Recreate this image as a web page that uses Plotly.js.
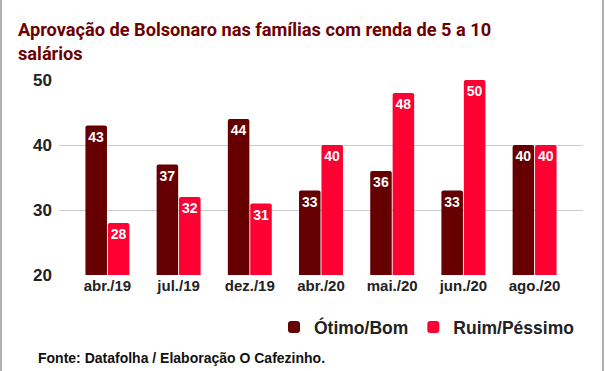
<!DOCTYPE html>
<html>
<head>
<meta charset="utf-8">
<script src="https://cdn.plot.ly/plotly-3.0.1.min.js"></script>
<style>
  html, body { margin: 0; padding: 0; background: #fff; }
  #wrap { position: relative; width: 605px; height: 371px; }
  #chart { width: 605px; height: 371px; }
  #frame { position: absolute; left: 0; top: 0; width: 600px; height: 371px;
           border-left: 2px solid #b0b0b0; border-right: 2px solid #b0b0b0; pointer-events: none; }
</style>
</head>
<body>
<div id="wrap">
  <div id="chart"></div>
  <div id="frame"></div>
</div>
<script>
const categories = ["abr./19", "jul./19", "dez./19", "abr./20", "mai./20", "jun./20", "ago./20"];
const otimoBom = [43, 37, 44, 33, 36, 33, 40];
const ruimPessimo = [28, 32, 31, 40, 48, 50, 40];
const seriesNames = ["Ótimo/Bom", "Ruim/Péssimo"];
const yTicks = [20, 30, 40, 50];
const titleText = "Aprovação de Bolsonaro nas famílias com renda de 5 a 10<br>salários";
const sourceText = "Fonte: Datafolha / Elaboração O Cafezinho.";

const FONT = "Liberation Sans, Arial, sans-serif";
const labelFont = { family: FONT, size: 14, color: "#ffffff", weight: "bold" };

function barTrace(name, values, color) {
  return {
    type: "bar",
    name: name,
    x: categories,
    y: values,
    marker: { color: color, line: { width: 0 } },
    text: values.map(String),
    textposition: "inside",
    insidetextanchor: "end",
    textangle: 0,
    constraintext: "none",
    insidetextfont: labelFont,
    hoverinfo: "skip"
  };
}

const data = [
  barTrace(seriesNames[0], otimoBom, "#660000"),
  barTrace(seriesNames[1], ruimPessimo, "#ff0033")
];

const layout = {
  width: 605,
  height: 371,
  margin: { l: 59, r: 22, t: 80, b: 96 },
  paper_bgcolor: "#ffffff",
  plot_bgcolor: "#ffffff",
  font: { family: FONT, color: "#222222" },
  title: {
    text: titleText,
    font: { family: "Roboto, " + FONT, size: 18.2, color: "#6d0000", weight: "bold" },
    x: 18 / 605,
    xanchor: "left",
    xref: "container",
    yref: "container",
    y: 1 - 36 / 371,
    yanchor: "top"
  },
  barmode: "group",
  bargap: 0.37,
  bargroupgap: 0.04,
  barcornerradius: 2,
  xaxis: {
    type: "category",
    range: [-0.68, 6.68],
    showgrid: false,
    zeroline: false,
    showline: false,
    ticks: "",
    tickfont: { family: FONT, size: 15, color: "#222222", weight: "bold" },
    fixedrange: true
  },
  yaxis: {
    range: [20, 50],
    tickvals: yTicks,
    ticktext: yTicks.map(String),
    showgrid: true,
    gridcolor: "#cccccc",
    gridwidth: 1,
    zeroline: false,
    showline: false,
    ticks: "",
    ticklabelstandoff: 6,
    tickfont: { family: FONT, size: 17, color: "#222222", weight: "bold" },
    fixedrange: true
  },
  showlegend: true,
  legend: {
    orientation: "h",
    x: 579 / 605,
    xanchor: "right",
    xref: "container",
    yref: "container",
    y: 1 - 327 / 371,
    yanchor: "middle",
    font: { family: FONT, size: 17.5, color: "#222222", weight: "bold" },
    itemwidth: 30,
    traceorder: "normal",
    bgcolor: "rgba(0,0,0,0)"
  },
  annotations: [{
    text: sourceText,
    xref: "paper",
    yref: "paper",
    x: (36 - 59) / 524,
    xanchor: "left",
    y: -(358 - 275) / 195,
    yanchor: "middle",
    showarrow: false,
    font: { family: FONT, size: 14, color: "#111111", weight: "bold" }
  }]
};

Plotly.newPlot("chart", data, layout, { displayModeBar: false, staticPlot: true });
</script>
</body>
</html>
